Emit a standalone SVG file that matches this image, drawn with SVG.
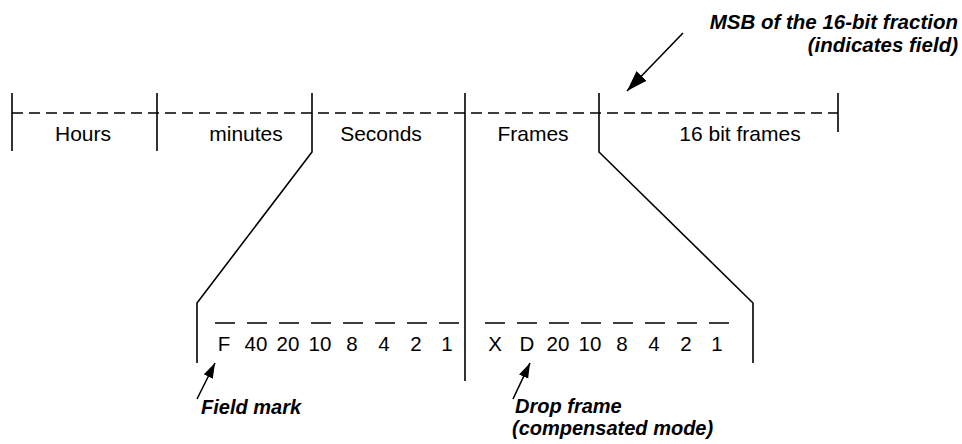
<svg xmlns="http://www.w3.org/2000/svg" width="962" height="444" viewBox="0 0 962 444">
<style>
.ln{fill:none;stroke:#000;stroke-width:1.6}
.dash{fill:none;stroke:#000;stroke-width:1.6;stroke-dasharray:11 6}
.bit{fill:none;stroke:#000;stroke-width:1.6}
.t{font-family:"Liberation Sans",Arial,sans-serif;font-size:21px;fill:#000}
.b{font-family:"Liberation Sans",Arial,sans-serif;font-size:20.5px;fill:#000}
.n{font-family:"Liberation Sans",Arial,sans-serif;font-size:20px;font-weight:bold;font-style:italic;fill:#000}
</style>
<defs>
<marker id="ah" markerUnits="userSpaceOnUse" markerWidth="22" markerHeight="16" viewBox="0 0 22 16" refX="21" refY="8" orient="auto">
<path d="M0,1 L21,8 L0,15 Z" fill="#000"/>
</marker>
<marker id="ahs" markerUnits="userSpaceOnUse" markerWidth="16" markerHeight="12" viewBox="0 0 16 12" refX="15" refY="6" orient="auto">
<path d="M0,1 L15,6 L0,11 Z" fill="#000"/>
</marker>
</defs>
<rect width="962" height="444" fill="#fff"/>

<g id="timeline">
<line class="dash" x1="12" y1="113" x2="838" y2="113"/>
<line class="ln" x1="12" y1="93" x2="12" y2="151"/>
<line class="ln" x1="157" y1="93" x2="157" y2="151"/>
<polyline class="ln" points="312,93 312,152 197,303 197,363"/>
<line class="ln" x1="465" y1="93" x2="465" y2="381"/>
<polyline class="ln" points="599,93 599,152 753,303 753,363"/>
<line class="ln" x1="838" y1="93" x2="838" y2="132"/>
<text class="t" x="83" y="141" text-anchor="middle">Hours</text>
<text class="t" x="246" y="141" text-anchor="middle">minutes</text>
<text class="t" x="381" y="141" text-anchor="middle">Seconds</text>
<text class="t" x="533" y="141" text-anchor="middle">Frames</text>
<text class="t" x="740" y="141" text-anchor="middle">16 bit frames</text>
</g>

<g id="seconds-bits">
<path class="bit" d="M215,323h20M247,323h20M279,323h20M311,323h20M343,323h20M375,323h20M407,323h20M439,323h20"/>
<text class="b" x="224" y="351" text-anchor="middle">F</text>
<text class="b" x="256" y="351" text-anchor="middle">40</text>
<text class="b" x="288" y="351" text-anchor="middle">20</text>
<text class="b" x="320" y="351" text-anchor="middle">10</text>
<text class="b" x="352" y="351" text-anchor="middle">8</text>
<text class="b" x="384" y="351" text-anchor="middle">4</text>
<text class="b" x="416" y="351" text-anchor="middle">2</text>
<text class="b" x="447" y="351" text-anchor="middle">1</text>
</g>

<g id="frames-bits">
<path class="bit" d="M485,323h20M517,323h20M549,323h20M581,323h20M613,323h20M645,323h20M677,323h20M709,323h20"/>
<text class="b" x="495" y="351" text-anchor="middle">X</text>
<text class="b" x="527" y="351" text-anchor="middle">D</text>
<text class="b" x="558" y="351" text-anchor="middle">20</text>
<text class="b" x="590" y="351" text-anchor="middle">10</text>
<text class="b" x="622" y="351" text-anchor="middle">8</text>
<text class="b" x="654" y="351" text-anchor="middle">4</text>
<text class="b" x="686" y="351" text-anchor="middle">2</text>
<text class="b" x="717" y="351" text-anchor="middle">1</text>
</g>

<g id="msb-note">
<text class="n" x="958" y="29" text-anchor="end" style="font-size:20.5px">MSB of the 16-bit fraction</text>
<text class="n" x="958" y="52" text-anchor="end" style="font-size:20.5px">(indicates field)</text>
</g>
<g id="field-mark-note">
<text class="n" x="201" y="414">Field mark</text>
</g>
<g id="drop-frame-note">
<text class="n" x="515" y="413">Drop frame</text>
<text class="n" x="512" y="435">(compensated mode)</text>
</g>

<g id="connectors">
<line class="ln" x1="683" y1="33" x2="627" y2="91" marker-end="url(#ah)"/>
<line class="ln" x1="197" y1="399" x2="215" y2="363" marker-end="url(#ahs)"/>
<line class="ln" x1="513" y1="399" x2="530" y2="363" marker-end="url(#ahs)"/>
</g>
</svg>
